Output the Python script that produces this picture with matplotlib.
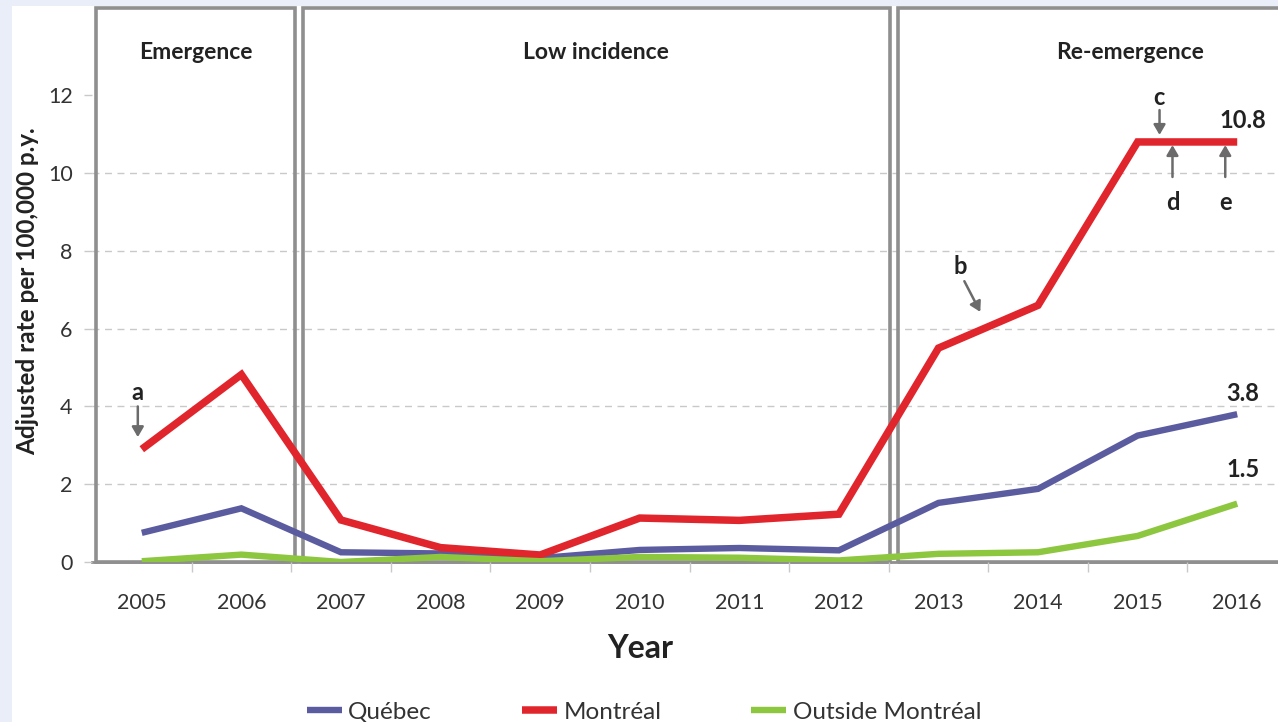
import matplotlib
matplotlib.use("Agg")
import matplotlib.pyplot as plt
from matplotlib.patches import Rectangle

plt.rcParams['font.family'] = ['Lato', 'DejaVu Sans']

years = list(range(2005, 2017))
quebec = [0.75, 1.38, 0.25, 0.22, 0.10, 0.31, 0.36, 0.30, 1.52, 1.88, 3.25, 3.8]
montreal = [2.9, 4.82, 1.08, 0.37, 0.18, 1.13, 1.07, 1.23, 5.5, 6.6, 10.8, 10.8]
outside = [0.02, 0.19, 0.0, 0.13, 0.02, 0.13, 0.11, 0.04, 0.21, 0.25, 0.67, 1.5]

series_names = ["Québec", "Montréal", "Outside Montréal"]
series_colors = ["#5b5c9f", "#e1252c", "#8dc63f"]

phase_names = ["Emergence", "Low incidence", "Re-emergence"]
phase_edges = [2004.5, 2006.58, 2012.55, 2017.3]

value_labels = [("10.8", 10.8), ("3.8", 3.8), ("1.5", 1.5)]

W, H = 1278, 722
fig = plt.figure(figsize=(W / 100, H / 100), dpi=100)
fig.patch.set_facecolor("#e9eef8")
fig.add_artist(Rectangle((12 / W, 0), 1 - 12 / W, 1 - 6 / H,
                         transform=fig.transFigure, facecolor="white",
                         edgecolor="none", zorder=-10))

ymax = 14.27
ax = fig.add_axes([92 / W, 1 - 562 / H, 1195 / W, 555 / H])
ax.set_facecolor("none")
ax.set_xlim(2004.5, 2016.5)
ax.set_ylim(0, ymax)

for s in ["top", "right", "left"]:
    ax.spines[s].set_visible(False)
ax.spines["bottom"].set_color("#8f8f8f")
ax.spines["bottom"].set_linewidth(2)
ax.spines["bottom"].set_zorder(1)

# dashed horizontal guides
for yv in range(2, 12, 2):
    ax.axhline(yv, color="#c9c9c9", lw=1, ls=(0, (5, 4)), zorder=0)

ax.set_yticks(range(0, 13, 2))
ax.tick_params(axis="y", length=6, width=1, color="#c9c9c9", pad=8,
               labelsize=15.5, labelcolor="#333333")
ax.set_xticks(years)
ax.set_xticks([y + 0.5 for y in years[:-1]], minor=True)
ax.tick_params(axis="x", which="major", length=0, pad=22,
               labelsize=15.5, labelcolor="#333333")
ax.tick_params(axis="x", which="minor", length=7, width=1, color="#c9c9c9")

# phase boxes
gap = 0.04
for i, name in enumerate(phase_names):
    x0 = phase_edges[i] + gap
    x1 = phase_edges[i + 1] - gap
    ax.add_patch(Rectangle((x0, 0), x1 - x0, ymax - 0.02, fill=False,
                           edgecolor="#8f8f8f", lw=2.6, clip_on=False, zorder=1))
    ax.text((x0 + x1) / 2, 13.11, name, ha="center", va="center",
            fontsize=16.5, fontweight="bold", color="#222222")

# series lines
lws = [4.6, 5.4, 4.6]
for vals, name, col, lw in zip([quebec, montreal, outside], series_names,
                               series_colors, lws):
    ax.plot(years, vals, color=col, lw=lw, label=name, zorder=3,
            solid_joinstyle="miter", solid_capstyle="butt")

# end-of-series values
label_offsets = [0.56, 0.54, 0.87]
for (txt, v), off in zip(value_labels, label_offsets):
    ax.text(2016.06, v + off, txt, ha="center", va="center", fontsize=17,
            fontweight="bold", color="#222222")

# event markers
arrow_kw = dict(arrowstyle="-|>,head_length=0.6,head_width=0.35",
                color="#6b6b6b", lw=1.8, shrinkA=0, shrinkB=0)
events = [
    ("a", (2004.96, 3.21), (2004.96, 4.0), (2004.96, 4.36)),
    ("b", (2013.42, 6.43), (2013.26, 7.22), (2013.22, 7.6)),
    ("c", (2015.22, 10.98), (2015.22, 11.62), (2015.21, 11.95)),
    ("d", (2015.35, 10.72), (2015.35, 9.9), (2015.35, 9.25)),
    ("e", (2015.88, 10.72), (2015.88, 9.9), (2015.88, 9.25)),
]
for letter, tip, tail, pos in events:
    ax.annotate("", xy=tip, xytext=tail, arrowprops=arrow_kw, zorder=4)
    ax.text(pos[0], pos[1], letter, ha="center", va="center", fontsize=17,
            fontweight="bold", color="#222222")

fig.text(28 / W, 1 - 291 / H, "Adjusted rate per 100,000 p.y.", rotation=90,
         ha="center", va="center", fontsize=17.5, fontweight="bold",
         color="#222222")
fig.text(640 / W, 1 - 648 / H, "Year", ha="center", va="center",
         fontsize=23, fontweight="bold", color="#222222")

fig.legend(loc="center", bbox_to_anchor=(644 / W, 1 - 712 / H), ncol=3,
           frameon=False, fontsize=17.5, handlelength=1.45, columnspacing=3.7,
           handletextpad=0.25, labelcolor="#333333")

fig.savefig("out.png", dpi=100, facecolor=fig.get_facecolor())
